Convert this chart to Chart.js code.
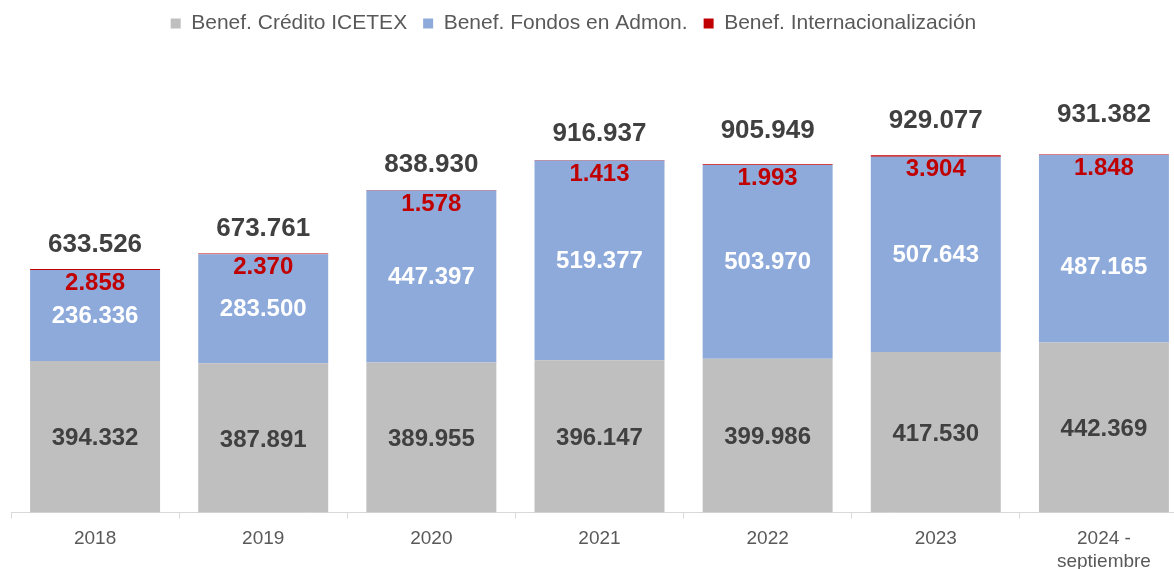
<!DOCTYPE html>
<html>
<head>
<meta charset="utf-8">
<script src="https://cdn.jsdelivr.net/npm/chart.js@4.4.1/dist/chart.umd.min.js"></script>
<style>
  body { margin: 0; overflow: hidden; background: #ffffff; }
  #contenedor { position: absolute; left: 0; top: 0; width: 1190px; height: 582px; }
</style>
</head>
<body>
<div id="contenedor"><canvas id="grafica"></canvas></div>
<script>
// Datos
const anios = ['2018', '2019', '2020', '2021', '2022', '2023', ['2024 -', 'septiembre']];
const credito = [394332, 387891, 389955, 396147, 399986, 417530, 442369];
const fondos = [236336, 283500, 447397, 519377, 503970, 507643, 487165];
const internacional = [2858, 2370, 1578, 1413, 1993, 3904, 1848];
const totales = [633526, 673761, 838930, 916937, 905949, 929077, 931382];

const fuente = '"Liberation Sans", Arial, sans-serif';

// formato con punto de miles
const formato = n => String(n).replace(/\B(?=(\d{3})+(?!\d))/g, '.');

// separación de los totales sobre cada barra (px)
const sepTotal = [24, 25, 25, 26, 33, 34, 40];
const ajusteFondos = [0, 0, 0, 0, 0, 0, 18];

// Leyenda: altura fija y corrida a la izquierda
const leyendaPlugin = {
    id: 'leyendaPlugin',
    beforeLayout(chart) {
        const leyenda = chart.legend;
        if (leyenda && !leyenda._parcheada) {
            const fitOriginal = leyenda.fit;
            leyenda.fit = function () {
                fitOriginal.call(this);
                this.height = 128;
            };
            leyenda._parcheada = true;
        }
    },
    afterLayout(chart) {
        chart.legend.left -= 26;
        chart.legend.right -= 26;
        chart.legend.top -= 3;
    }
};

// Etiquetas de valores
const etiquetasPlugin = {
    id: 'etiquetasPlugin',
    afterDatasetsDraw(chart) {
        const ctx = chart.ctx;
        const y = chart.scales.y;
        ctx.save();
        ctx.textAlign = 'center';
        ctx.textBaseline = 'middle';

        chart.getDatasetMeta(0).data.forEach((barra, i) => {
            ctx.font = 'bold 24px ' + fuente;
            ctx.fillStyle = '#404040';
            ctx.fillText(formato(credito[i]), barra.x, (barra.y + barra.base) / 2 + 2);
        });
        chart.getDatasetMeta(1).data.forEach((barra, i) => {
            ctx.font = 'bold 24px ' + fuente;
            ctx.fillStyle = '#ffffff';
            ctx.fillText(formato(fondos[i]), barra.x, (barra.y + barra.base) / 2 + 1 + ajusteFondos[i]);
        });
        chart.getDatasetMeta(2).data.forEach((barra, i) => {
            ctx.font = 'bold 24px ' + fuente;
            ctx.fillStyle = '#c00000';
            ctx.fillText(formato(internacional[i]), barra.x, barra.y + 14);
        });
        chart.getDatasetMeta(2).data.forEach((barra, i) => {
            ctx.font = 'bold 26px ' + fuente;
            ctx.fillStyle = '#404040';
            ctx.fillText(formato(totales[i]), barra.x, y.getPixelForValue(totales[i]) - sepTotal[i]);
        });
        ctx.restore();
    }
};

const ctx = document.getElementById('grafica').getContext('2d');
window.miGrafica = new Chart(ctx, {
    type: 'bar',
    data: {
        labels: anios,
        datasets: [{
            label: 'Benef. Crédito ICETEX',
            backgroundColor: '#bfbfbf',
            data: credito
        },
        {
            label: 'Benef. Fondos en Admon.',
            backgroundColor: '#8eaadb',
            data: fondos
        },
        {
            label: 'Benef. Internacionalización',
            backgroundColor: '#c00000',
            data: internacional
        }]
    },
    options: {
        responsive: true,
        maintainAspectRatio: false,
        animation: false,
        datasets: {
            bar: {
                barPercentage: 0.773,
                categoryPercentage: 1,
                borderWidth: 0
            }
        },
        layout: {
            padding: { left: 11, right: 2, top: 0, bottom: 0 }
        },
        plugins: {
            tooltip: { enabled: false },
            legend: {
                position: 'top',
                labels: {
                    boxWidth: 10,
                    boxHeight: 10,
                    padding: 16,
                    color: '#595959',
                    font: { family: fuente, size: 21 }
                }
            }
        },
        scales: {
            x: {
                stacked: true,
                border: { display: true, color: '#d9d9d9', width: 1 },
                grid: {
                    display: true,
                    offset: true,
                    drawOnChartArea: false,
                    drawTicks: true,
                    tickLength: 6,
                    color: '#d9d9d9'
                },
                ticks: {
                    color: '#595959',
                    padding: 8,
                    maxRotation: 0,
                    autoSkip: false,
                    font: { family: fuente, size: 19, lineHeight: 1.25 }
                }
            },
            y: {
                stacked: true,
                display: false,
                min: 0,
                max: 1000000
            }
        }
    },
    plugins: [leyendaPlugin, etiquetasPlugin]
});
</script>
</body>
</html>
